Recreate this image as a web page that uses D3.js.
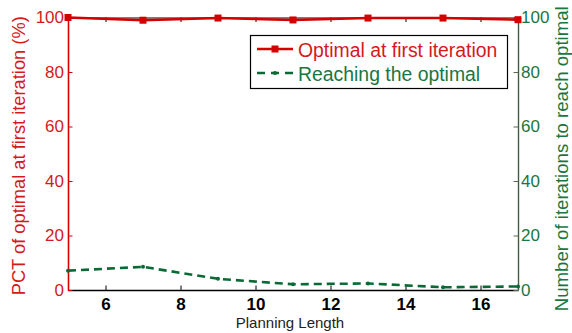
<!DOCTYPE html>
<html><head><meta charset="utf-8">
<script src="https://cdn.jsdelivr.net/npm/d3@7"></script>
<style>html,body{margin:0;padding:0;background:#fff;}svg{display:block;font-family:"Liberation Sans",Arial,sans-serif;}</style>
</head><body>
<svg id="chart" width="572" height="333"></svg>
<script>
const planningLength = [5, 7, 9, 11, 13, 15, 17];
const pctOptimalFirst = [100, 99, 99.8, 99.1, 99.8, 99.8, 99.2];
const iterationsToOptimal = [7.1, 8.5, 4.1, 2.1, 2.4, 1.0, 1.3];
const xTicks = [6, 8, 10, 12, 14, 16];
const yTicks = [0, 20, 40, 60, 80, 100];
const seriesNames = ["Optimal at first iteration", "Reaching the optimal"];
const xLabel = "Planning Length";
const yLeftLabel = "PCT of optimal at first iteration (%)";
const yRightLabel = "Number of iterations to reach optimal";

const RED = "#d40000", RED_T = "#d41a1a";
const GREEN = "#0a6a35", GREEN_T = "#17773f";

const svg = d3.select("#chart");
const L = 68, R = 518, T = 17.5, B = 290;
const x = d3.scaleLinear().domain([5, 17]).range([L, R]);
const yL = d3.scaleLinear().domain([0, 100]).range([B, T]);
const yR = d3.scaleLinear().domain([0, 100]).range([B, T]);

// top box line
svg.append("g").attr("transform", `translate(0,${T})`)
  .call(d3.axisTop(x).tickValues(xTicks).tickSize(-4.5).tickFormat(""))
  .call(g => g.selectAll("path,line").attr("stroke", "#000"));

// bottom axis
const bx = svg.append("g").attr("transform", `translate(0,${B})`)
  .call(d3.axisBottom(x).tickValues(xTicks).tickSize(-4.5).tickSizeOuter(0).tickPadding(8));
bx.selectAll("path").attr("stroke", "#000").attr("stroke-width", 1.6);
bx.selectAll("line").attr("stroke", "#000");
bx.selectAll("text").attr("font-size", 17).attr("font-weight", "bold").attr("fill", "#000")
  .attr("font-family", "Liberation Sans, Arial, sans-serif").attr("dy", "0.71em");

// left axis
const ly = svg.append("g").attr("transform", `translate(${L},0)`)
  .call(d3.axisLeft(yL).tickValues(yTicks).tickSize(-4.5).tickSizeOuter(0).tickPadding(4));
ly.selectAll("path").attr("stroke", RED).attr("stroke-width", 1.6);
ly.selectAll("line").attr("stroke", RED);
ly.selectAll("text").attr("font-size", 17).attr("fill", RED_T)
  .attr("font-family", "Liberation Sans, Arial, sans-serif");

// right axis
const ry = svg.append("g").attr("transform", `translate(${R},0)`)
  .call(d3.axisRight(yR).tickValues(yTicks).tickSize(-4.5).tickSizeOuter(0).tickPadding(3));
ry.selectAll("path").attr("stroke", "#3f5f45").attr("stroke-width", 1.4);
ry.selectAll("line").attr("stroke", "#5a6a50");
ry.selectAll("text").attr("font-size", 17).attr("fill", GREEN_T)
  .attr("font-family", "Liberation Sans, Arial, sans-serif");

// series
const redData = planningLength.map((p, i) => [p, pctOptimalFirst[i]]);
const greenData = planningLength.map((p, i) => [p, iterationsToOptimal[i]]);

svg.append("path").datum(greenData)
  .attr("fill", "none").attr("stroke", GREEN).attr("stroke-width", 2.6)
  .attr("stroke-dasharray", "8,5")
  .attr("d", d3.line().x(d => x(d[0])).y(d => yR(d[1])));
svg.selectAll(".gdot").data(greenData).enter().append("circle")
  .attr("cx", d => x(d[0])).attr("cy", d => yR(d[1])).attr("r", 2).attr("fill", GREEN);

svg.append("path").datum(redData)
  .attr("fill", "none").attr("stroke", RED).attr("stroke-width", 2.4)
  .attr("d", d3.line().x(d => x(d[0])).y(d => yL(d[1])));
svg.selectAll(".rsq").data(redData).enter().append("rect")
  .attr("x", d => x(d[0]) - 3.5).attr("y", d => yL(d[1]) - 3.5)
  .attr("width", 7).attr("height", 7).attr("fill", RED);

// legend
const lg = svg.append("g");
lg.append("rect").attr("x", 250.5).attr("y", 35.5).attr("width", 257).attr("height", 53)
  .attr("fill", "#fff").attr("stroke", "#000").attr("stroke-width", 1.2);
lg.append("line").attr("x1", 257).attr("x2", 293).attr("y1", 49).attr("y2", 49)
  .attr("stroke", RED).attr("stroke-width", 2.4);
lg.append("rect").attr("x", 275 - 3.5).attr("y", 49 - 3.5).attr("width", 7).attr("height", 7).attr("fill", RED);
lg.append("text").attr("x", 298).attr("y", 56.5).text(seriesNames[0])
  .attr("font-size", 19.4).attr("fill", RED_T);
lg.append("line").attr("x1", 257).attr("x2", 293).attr("y1", 73).attr("y2", 73)
  .attr("stroke", GREEN).attr("stroke-width", 2.6).attr("stroke-dasharray", "8,6");
lg.append("circle").attr("cx", 275).attr("cy", 73).attr("r", 2).attr("fill", GREEN);
lg.append("text").attr("x", 298).attr("y", 81).text(seriesNames[1])
  .attr("font-size", 19.4).attr("fill", GREEN_T);

// axis titles
svg.append("text").attr("x", (L + R) / 2 - 3).attr("y", 328).attr("text-anchor", "middle")
  .attr("font-size", 15).attr("fill", "#222").text(xLabel);
svg.append("text").attr("transform", `translate(25,${(T + B) / 2 + 2}) rotate(-90)`)
  .attr("text-anchor", "middle").attr("font-size", 18.3).attr("fill", RED_T).text(yLeftLabel);
svg.append("text").attr("transform", `translate(568,${(T + B) / 2 + 5}) rotate(-90)`)
  .attr("text-anchor", "middle").attr("font-size", 18.6).attr("fill", GREEN_T).text(yRightLabel);
</script>
</body></html>
